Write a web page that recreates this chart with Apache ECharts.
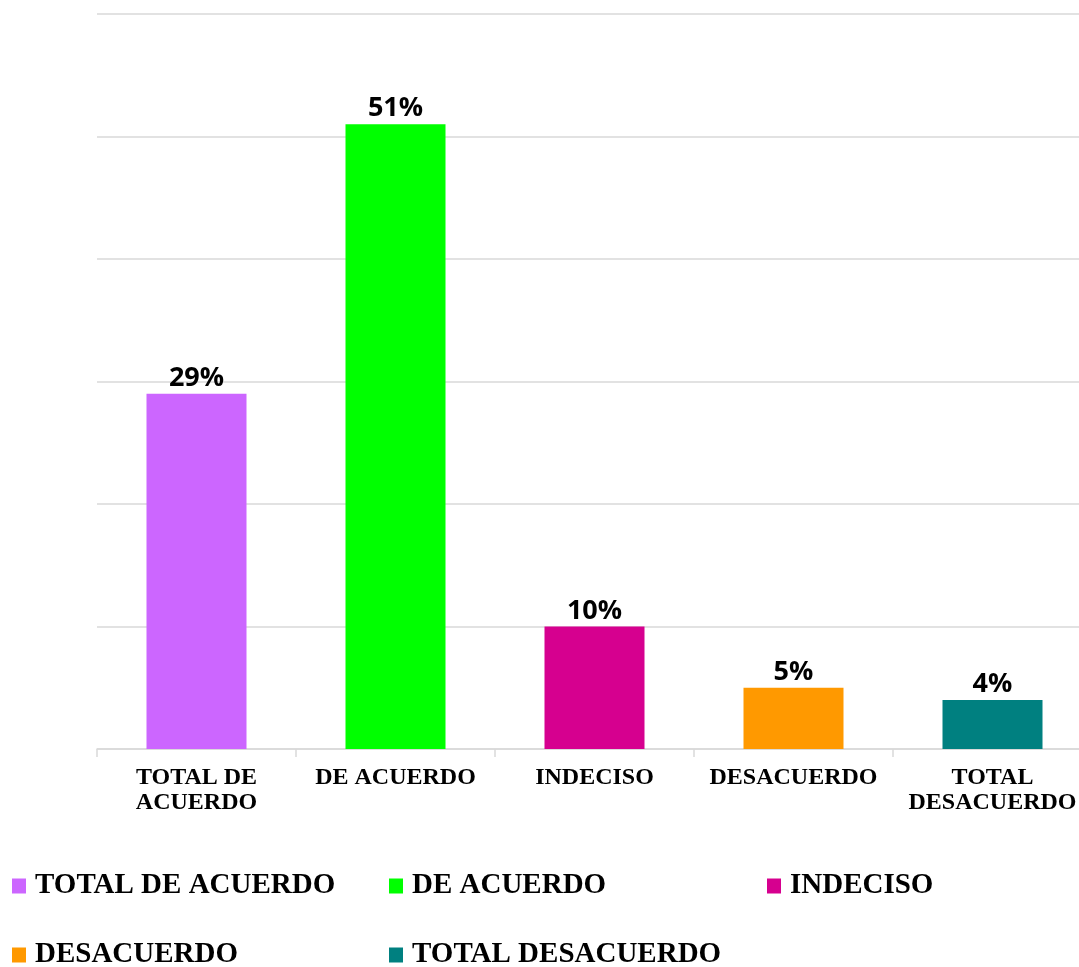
<!DOCTYPE html>
<html>
<head>
<meta charset="utf-8">
<script src="https://cdn.jsdelivr.net/npm/echarts@6/dist/echarts.min.js"></script>
<style>
  html, body { margin: 0; padding: 0; background: #ffffff; overflow: hidden; }
  /* the plot area runs a little past the right edge of the window */
  #chart { width: 1095px; height: 967px; }
</style>
</head>
<body>
<div id="chart"></div>
<script>
// Response categories (legend names) and their axis tick labels
const categories = ['TOTAL DE ACUERDO', 'DE ACUERDO', 'INDECISO', 'DESACUERDO', 'TOTAL DESACUERDO'];
const tickLabels = ['TOTAL DE\nACUERDO', 'DE ACUERDO', 'INDECISO', 'DESACUERDO', 'TOTAL\nDESACUERDO'];
// Share of responses, in percent
const values = [29, 51, 10, 5, 4];
const colors = ['#CC66FF', '#00FF00', '#D6008F', '#FF9900', '#008080'];

// Legend placement: one legend block per item, laid out in rows of three
const legendSlots = [
  { left: 12, top: 870 },
  { left: 389, top: 870 },
  { left: 767, top: 870 },
  { left: 12, top: 939 },
  { left: 389, top: 939 }
];

const chart = echarts.init(document.getElementById('chart'), null, { renderer: 'canvas' });

// One series per category, sharing a stack so every bar sits centred on its own slot
const series = categories.map((name, i) => ({
  name: name,
  type: 'bar',
  stack: 'responses',
  barWidth: 100,
  itemStyle: { color: colors[i] },
  label: {
    show: true,
    position: 'top',
    distance: 2,
    formatter: p => p.value + '%',
    fontFamily: 'Open Sans',
    fontWeight: 'bold',
    fontSize: 27,
    color: '#000000'
  },
  data: values.map((v, j) => (j === i ? v : null))
}));

const legends = categories.map((name, i) => ({
  data: [name],
  left: legendSlots[i].left,
  top: legendSlots[i].top,
  padding: 0,
  orient: 'horizontal',
  icon: 'rect',
  itemWidth: 14,
  itemHeight: 15,
  selectedMode: false,
  textStyle: {
    fontFamily: 'Liberation Serif',
    fontWeight: 'bold',
    fontSize: 29,
    lineHeight: 32,
    color: '#000000',
    padding: [0, 0, 0, 4]
  }
}));

chart.setOption({
  animation: false,
  backgroundColor: '#ffffff',
  grid: { left: 97, width: 995, top: 14, bottom: 218, containLabel: false },
  legend: legends,
  xAxis: {
    type: 'category',
    data: tickLabels,
    axisLine: { lineStyle: { color: '#d9d9d9', width: 1.5 } },
    axisTick: { show: true, length: 8, lineStyle: { color: '#d9d9d9', width: 1.5 } },
    axisLabel: {
      interval: 0,
      margin: 16,
      fontFamily: 'Liberation Serif',
      fontWeight: 'bold',
      fontSize: 24,
      lineHeight: 25,
      color: '#000000',
      align: 'center'
    }
  },
  yAxis: {
    type: 'value',
    min: 0,
    max: 60,
    interval: 10,
    axisLine: { show: false },
    axisTick: { show: false },
    axisLabel: { show: false },
    splitLine: { lineStyle: { color: '#d9d9d9', width: 1.5 } }
  },
  series: series
});
</script>
</body>
</html>
